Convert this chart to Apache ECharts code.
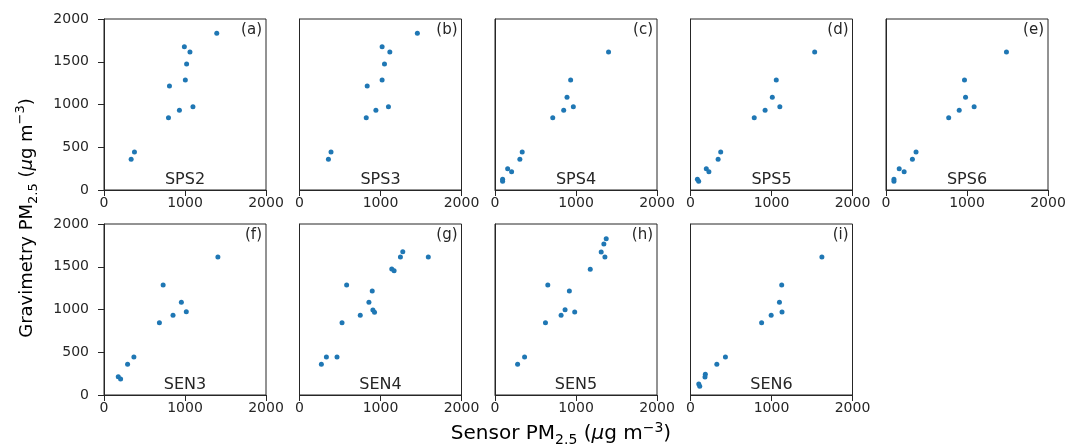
<!DOCTYPE html>
<html><head><meta charset="utf-8">
<script src="https://cdn.jsdelivr.net/npm/echarts@6/dist/echarts.min.js"></script>
<style>html,body{margin:0;padding:0;background:#fff}#c{width:1072px;height:445px}</style>
</head><body><div id="c"></div>
<script>
// ---- data ----
const sensors = ['SPS2','SPS3','SPS4','SPS5','SPS6','SEN3','SEN4','SEN5','SEN6'];
const panelTags = ['(a)','(b)','(c)','(d)','(e)','(f)','(g)','(h)','(i)'];
const xTickValues = [0, 1000, 2000];
const yTickValues = [0, 500, 1000, 1500, 2000];

const sps2X = [1392, 992, 1061, 1020, 1004, 808, 1098, 931, 796, 376, 335];
const sps2Y = [1832, 1676, 1614, 1474, 1287, 1216, 975, 932, 846, 444, 359];
const sps3X = [1455, 1020, 1115, 1049, 1020, 836, 1098, 943, 824, 389, 357];
const sps3Y = [1832, 1676, 1614, 1474, 1287, 1216, 975, 932, 846, 444, 359];
const sps4X = [1402, 934, 889, 967, 848, 713, 336, 307, 156, 205, 94, 94];
const sps4Y = [1614, 1287, 1084, 975, 932, 846, 444, 359, 250, 214, 125, 101];
const sps5X = [1533, 1059, 1010, 1103, 921, 787, 373, 341, 195, 227, 85, 101];
const sps5Y = [1614, 1287, 1084, 975, 932, 846, 444, 359, 250, 214, 125, 101];
const sps6X = [1487, 969, 982, 1088, 904, 774, 371, 326, 163, 224, 98, 98];
const sps6Y = [1614, 1287, 1084, 975, 932, 846, 444, 359, 250, 214, 125, 101];
const sen3X = [1406, 730, 955, 1016, 852, 684, 369, 291, 176, 205];
const sen3Y = [1614, 1287, 1084, 975, 932, 846, 444, 359, 214, 187];
const sen4X = [1275, 1246, 1590, 1139, 1168, 582, 898, 857, 906, 926, 750, 525, 332, 463, 270];
const sen4Y = [1676, 1614, 1614, 1474, 1454, 1287, 1216, 1084, 994, 967, 932, 846, 444, 444, 359];
const sen5X = [1373, 1344, 1311, 1357, 1176, 652, 918, 865, 816, 984, 623, 365, 279];
const sen5Y = [1828, 1766, 1672, 1614, 1470, 1287, 1216, 998, 932, 971, 846, 444, 359];
const sen6X = [1622, 1126, 1098, 1130, 996, 878, 431, 325, 183, 179, 102, 114];
const sen6Y = [1614, 1287, 1084, 971, 932, 846, 444, 359, 242, 211, 129, 101];

const seriesX = [sps2X, sps3X, sps4X, sps5X, sps6X, sen3X, sen4X, sen5X, sen6X];
const seriesY = [sps2Y, sps3Y, sps4Y, sps5Y, sps6Y, sen3Y, sen4Y, sen5Y, sen6Y];

// ---- layout ----
const FONT = 'DejaVu Sans';
const INK = '#262626';
const lefts = [104, 299.5, 495, 690.5, 886];
const tops = [19, 224];
const W = 162, H = 171;

const grids = [], xAxes = [], yAxes = [], series = [], graphics = [];
for (let i = 0; i < 9; i++) {
  const row = i < 5 ? 0 : 1;
  const col = i < 5 ? i : i - 5;
  const left = lefts[col], top = tops[row];
  grids.push({left: left, top: top, width: W, height: H, show: true,
    borderColor: INK, borderWidth: 1, backgroundColor: 'transparent'});
  xAxes.push({type: 'value', gridIndex: i, min: xTickValues[0], max: xTickValues[xTickValues.length-1],
    interval: xTickValues[1] - xTickValues[0],
    axisLine: {show: true, onZero: false, lineStyle: {color: INK, width: 1}},
    axisTick: {show: true, length: 6, lineStyle: {color: INK}},
    axisLabel: {show: true, fontFamily: FONT, fontSize: 14, color: INK, margin: 6,
      formatter: v => String(v), hideOverlap: false, showMinLabel: true, showMaxLabel: true},
    splitLine: {show: false}});
  const showY = col === 0;
  yAxes.push({type: 'value', gridIndex: i, min: yTickValues[0], max: yTickValues[yTickValues.length-1],
    interval: yTickValues[1] - yTickValues[0],
    axisLine: {show: true, onZero: false, lineStyle: {color: INK, width: 1}},
    axisTick: {show: showY, length: 6, lineStyle: {color: INK}},
    axisLabel: {show: showY, fontFamily: FONT, fontSize: 14, color: INK, margin: 15,
      formatter: v => String(v), showMinLabel: true, showMaxLabel: true},
    splitLine: {show: false}});
  series.push({type: 'scatter', xAxisIndex: i, yAxisIndex: i, symbol: 'circle', symbolSize: 5,
    itemStyle: {color: '#1f77b4', opacity: 1},
    data: seriesX[i].map((x, k) => [x, seriesY[i][k]])});
  graphics.push({type: 'text', x: left + W / 2, y: top + H - 10,
    style: {text: sensors[i], font: '16px "' + FONT + '"', fill: INK, align: 'center', verticalAlign: 'middle'}});
  graphics.push({type: 'text', x: left + W - 4, y: top + 11,
    style: {text: panelTags[i], font: '15px "' + FONT + '"', fill: INK, align: 'right', verticalAlign: 'middle'}});
}

function richFor(size) {
  const s = Math.round(size * 0.72);
  return {
    a: {fontFamily: FONT, fontSize: size, color: INK, lineHeight: 26, verticalAlign: 'middle'},
    it: {fontFamily: FONT, fontSize: size, fontStyle: 'italic', color: INK, lineHeight: 26, verticalAlign: 'middle'},
    sub: {fontFamily: FONT, fontSize: s, color: INK, lineHeight: 12, verticalAlign: 'bottom'},
    sup: {fontFamily: FONT, fontSize: s, color: INK, lineHeight: 12, verticalAlign: 'top'}
  };
}
graphics.push({type: 'text', x: 27, y: 218, rotation: Math.PI / 2,
  style: {text: '{a|Gravimetry PM}{sub|2.5}{a| (}{it|μ}{a|g m}{sup|−3}{a|)}', rich: richFor(18),
    align: 'center', verticalAlign: 'middle'}});
graphics.push({type: 'text', x: 561, y: 434,
  style: {text: '{a|Sensor PM}{sub|2.5}{a| (}{it|μ}{a|g m}{sup|−3}{a|)}', rich: richFor(20),
    align: 'center', verticalAlign: 'middle'}});

const chart = echarts.init(document.getElementById('c'), null, {renderer: 'canvas'});
chart.setOption({
  animation: false,
  backgroundColor: '#fff',
  grid: grids, xAxis: xAxes, yAxis: yAxes, series: series, graphic: graphics
});
</script></body></html>
